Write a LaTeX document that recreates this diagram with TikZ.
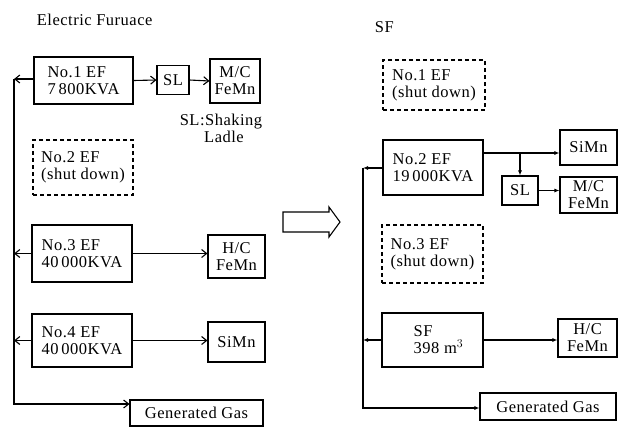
\documentclass[tikz,border=0pt]{standalone}
\usepackage{fontspec}
\setmainfont{Liberation Serif}[LetterSpace=3]
\usetikzlibrary{arrows.meta}
\begin{document}
\begin{tikzpicture}[x=1pt,y=-1pt,line width=1.1pt,
  every node/.style={font=\fontsize{16.5}{17}\selectfont},
  blk/.style={draw,rectangle,inner sep=0pt,align=left},
  dbox/.style={blk,dashed,dash pattern=on 4pt off 3pt},
  openarr/.style={-{Straight Barb[length=5pt,width=8pt]}},
  fillarr/.style={-{Latex[length=5pt,width=4pt]}}]
\useasboundingbox (0,0) rectangle (618,429);
% ---- left: Electric Furnace
\node[anchor=west] (t1) at (33,20) {Electric Furuace};
\node[blk,minimum width=99pt,minimum height=47pt] (n1) at (83.5,80.5) {No.1 EF\\7\,800KVA};
\node[blk,align=center,minimum width=32pt,minimum height=29pt] (sl1) at (173,80) {SL};
\node[blk,align=center,minimum width=50pt,minimum height=44pt] (mc1) at (235,81) {M/C\\FeMn};
\node[align=center] (lg) at (221,128) {SL:Shaking\\\hspace*{6pt}Ladle};
\node[dbox,minimum width=100pt,minimum height=55pt] (n2) at (83,167.5) {No.2 EF\\(shut down)};
\node[blk,minimum width=100pt,minimum height=57pt] (n3) at (82,253.5) {No.3 EF\\40\,000KVA};
\node[blk,align=center,minimum width=57pt,minimum height=43pt] (hc1) at (236.5,256.5) {H/C\\FeMn};
\node[blk,minimum width=100pt,minimum height=53pt] (n4) at (82,340.5) {No.4 EF\\40\,000KVA};
\node[blk,align=center,minimum width=57pt,minimum height=40pt] (si1) at (236.5,342) {SiMn};
\node[blk,align=center,minimum width=133pt,minimum height=26pt] (gg1) at (196.5,413) {Generated Gas};
\coordinate (b1t) at (14,79);
\coordinate (b1b) at (14,404);
\draw[openarr] (n1.east) -- (sl1.west);
\draw[openarr] (sl1.east) -- (mc1.west);
\draw[openarr] (n3.east) -- (n3.east -| hc1.west);
\draw[openarr] (n4.east) -- (n4.east -| si1.west);
\draw[openarr] (n1.west |- b1t) -- (b1t);
\draw[openarr] (n3.west) -- (n3.west -| b1t);
\draw[openarr] (n4.west) -- (n4.west -| b1t);
\draw[openarr] (b1t) -- (b1b) -- (b1b -| gg1.west);
% ---- middle block arrow
\draw (283,212) -- (329,212) -- (329,207) -- (340,222) -- (329,237) -- (329,232) -- (283,232) -- cycle;
% ---- right: SF
\node[anchor=west] (t2) at (371,27) {SF};
\node[dbox,minimum width=102pt,minimum height=50pt] (d1) at (434,85) {No.1 EF\\(shut down)};
\node[blk,minimum width=100pt,minimum height=55pt] (m2) at (433,167.5) {No.2 EF\\19\,000KVA};
\node[blk,align=center,minimum width=57pt,minimum height=35pt] (si2) at (588.5,147.5) {SiMn};
\node[blk,align=center,minimum width=36pt,minimum height=29pt] (sl2) at (520,190.5) {SL};
\node[blk,align=center,minimum width=57pt,minimum height=36pt] (mc2) at (588.5,195) {M/C\\FeMn};
\node[dbox,minimum width=101pt,minimum height=58pt] (d3) at (432.5,254) {No.3 EF\\(shut down)};
\node[blk,minimum width=101pt,minimum height=54pt] (sf) at (432.5,340) {\hspace*{12pt}SF\\\hspace*{12pt}398 m$^{3}$};
\node[blk,align=center,minimum width=59pt,minimum height=38pt] (hc2) at (587.5,338) {H/C\\FeMn};
\node[blk,align=center,minimum width=136pt,minimum height=27pt] (gg2) at (548,406.5) {Generated Gas};
\coordinate (c2) at (m2.east |- 0,153);
\coordinate (br) at (520,153);
\coordinate (b2t) at (363,168);
\coordinate (b2b) at (363,408);
\draw[fillarr] (c2) -- (c2 -| si2.west);
\draw[fillarr] (br) -- (sl2.north);
\draw[fillarr] (sl2.east) -- (sl2.east -| mc2.west);
\draw[fillarr] (sf.east) -- (sf.east -| hc2.west);
\draw[fillarr] (m2.west |- b2t) -- (b2t);
\draw[fillarr] (sf.west) -- (sf.west -| b2t);
\draw[fillarr] (b2t) -- (b2b) -- (b2b -| gg2.west);
\end{tikzpicture}
\end{document}
